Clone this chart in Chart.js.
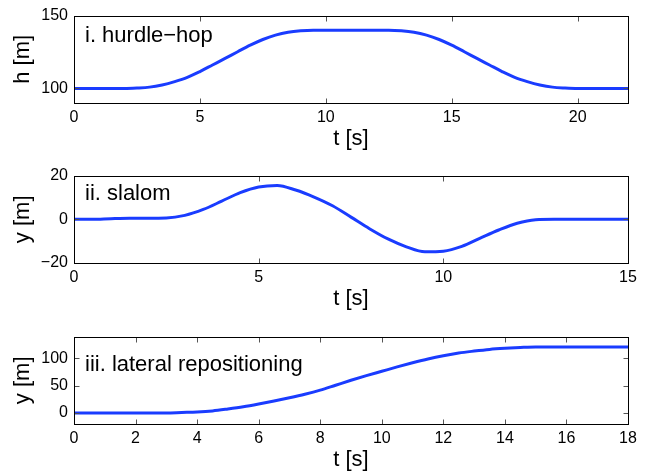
<!DOCTYPE html>
<html>
<head>
<meta charset="utf-8">
<script src="https://cdn.jsdelivr.net/npm/chart.js@4.4.1/dist/chart.umd.min.js"></script>
<style>
  html, body { margin: 0; padding: 0; background: #fff; overflow: hidden; }
  #wrap { position: relative; width: 650px; height: 474px; }
  .panel { position: absolute; left: 0; width: 650px; height: 160px; }
</style>
</head>
<body>
<div id="wrap">
  <div class="panel" style="top:0px"><canvas id="c1"></canvas></div>
  <div class="panel" style="top:160px"><canvas id="c2"></canvas></div>
  <div class="panel" style="top:321px"><canvas id="c3"></canvas></div>
</div>
<script>
// i. hurdle-hop: altitude over time
const tHurdle = [0, 0.5, 1, 1.5, 2, 2.5, 3, 3.5, 4, 4.5, 5, 5.5, 6, 6.5, 7, 7.5, 8, 8.5, 9, 9.5, 10,
  10.5, 11, 11.5, 12, 12.5, 13, 13.5, 14, 14.5, 15, 15.5, 16, 16.5, 17, 17.5, 18, 18.5, 19, 19.5, 20,
  20.5, 21, 21.5, 22];
const hHurdle = [100, 100, 100, 100, 100, 100.3, 100.9, 102.4, 104.7, 107.6, 111.6, 116.1, 120.6, 125.2,
  129.7, 133.6, 136.6, 138.6, 139.6, 140, 140, 140, 140, 140, 140, 140, 139.6, 138.6, 136.6, 133.6,
  129.7, 125.2, 120.6, 116.1, 111.6, 107.6, 104.7, 102.4, 100.9, 100.3, 100, 100, 100, 100, 100];
const hHurdleTicks = [100, 150];
const tHurdleTicks = [0, 5, 10, 15, 20];

// ii. slalom: lateral offset over time
const tSlalom = [0, 0.5, 1, 1.5, 2, 2.5, 3, 3.5, 4, 4.5, 5, 5.5, 6, 6.5, 7, 7.5, 8, 8.5, 9, 9.5, 10,
  10.5, 11, 11.5, 12, 12.5, 13, 13.5, 14, 14.5, 15];
const ySlalom = [0, 0, 0.3, 0.5, 0.5, 0.6, 1.8, 4.5, 8.3, 12.2, 14.8, 15.5, 13.4, 10.2, 6.2, 1,
  -4.3, -9, -12.6, -14.9, -14.6, -12.4, -8.6, -4.9, -1.8, -0.2, 0, 0, 0, 0, 0];
const ySlalomTicks = [-20, 0, 20];
const tSlalomTicks = [0, 5, 10, 15];

// iii. lateral repositioning
const tLateral = [0, 0.5, 1, 1.5, 2, 2.5, 3, 3.5, 4, 4.5, 5, 5.5, 6, 6.5, 7, 7.5, 8, 8.5, 9, 9.5, 10,
  10.5, 11, 11.5, 12, 12.5, 13, 13.5, 14, 14.5, 15, 15.5, 16, 16.5, 17, 17.5, 18];
const yLateral = [0, 0, 0, 0, 0, 0, 0, 1, 2, 4, 7.5, 11.5, 16.5, 22, 28, 34.5, 42, 51, 60, 68.5, 76.5,
  84.5, 92, 99, 105, 110, 113.5, 116.5, 118.5, 120, 121, 121, 121, 121, 121, 121, 121];
const yLateralTicks = [0, 50, 100];
const tLateralTicks = [0, 2, 4, 6, 8, 10, 12, 14, 16, 18];

const FONT = "'Liberation Sans', Arial, Helvetica, sans-serif";
const LINE = '#1a3cff';

// box around the plot area with inward tick marks on all four sides
const boxPlugin = {
  id: 'box',
  afterDraw(chart) {
    const ctx = chart.ctx;
    const a = chart.chartArea;
    const xs = chart.scales.x, ys = chart.scales.y;
    const L = Math.round(a.left) + 0.5, R = Math.round(a.right) + 0.5;
    const T = Math.round(a.top) + 0.5, B = Math.round(a.bottom) + 0.5;
    ctx.save();
    ctx.strokeStyle = '#555';
    ctx.lineWidth = 1;
    ctx.beginPath();
    xs.ticks.forEach(t => {
      const px = Math.round(xs.getPixelForValue(t.value)) + 0.5;
      ctx.moveTo(px, B); ctx.lineTo(px, B - 5);
      ctx.moveTo(px, T); ctx.lineTo(px, T + 5);
    });
    ys.ticks.forEach(t => {
      const py = Math.round(ys.getPixelForValue(t.value)) + 0.5;
      ctx.moveTo(L, py); ctx.lineTo(L + 5, py);
      ctx.moveTo(R, py); ctx.lineTo(R - 5, py);
    });
    ctx.stroke();
    ctx.strokeStyle = '#000';
    ctx.strokeRect(L, T, R - L, B - T);
    const lab = chart.options.plugins.box;
    ctx.fillStyle = '#000';
    ctx.font = '22px ' + FONT;
    ctx.textBaseline = 'alphabetic';
    ctx.fillText(lab.text, a.left + 11, a.top + lab.dy);
    ctx.restore();
  }
};

function makePanel(id, tVals, yVals, xMax, yMin, yMax, xTicks, yTicks, yTitle, label, dy) {
  new Chart(document.getElementById(id), {
    type: 'line',
    data: {
      datasets: [{
        data: tVals.map((t, i) => ({ x: t, y: yVals[i] })),
        borderColor: LINE,
        borderWidth: 3,
        pointRadius: 0,
        cubicInterpolationMode: 'monotone',
        fill: false
      }]
    },
    options: {
      responsive: true,
      maintainAspectRatio: false,
      animation: false,
      layout: { padding: { top: 15, right: 22, left: 0, bottom: 0 } },
      plugins: {
        legend: { display: false },
        tooltip: { enabled: false },
        box: { text: label, dy: dy }
      },
      scales: {
        x: {
          type: 'linear',
          min: 0,
          max: xMax,
          afterBuildTicks: s => { s.ticks = xTicks.map(v => ({ value: v })); },
          afterFit: s => { s.height = 57; },
          grid: { display: false, drawTicks: false },
          border: { display: false },
          ticks: { color: '#000', font: { family: FONT, size: 16 }, padding: 5, maxRotation: 0 },
          title: { display: true, text: 't [s]', color: '#000',
                   font: { family: FONT, size: 22, lineHeight: 1 }, padding: { top: 0, bottom: 10 } }
        },
        y: {
          min: yMin,
          max: yMax,
          afterBuildTicks: s => { s.ticks = yTicks.map(v => ({ value: v })); },
          afterFit: s => { s.width = 74; },
          grid: { display: false, drawTicks: false },
          border: { display: false },
          ticks: { color: '#000', font: { family: FONT, size: 16 }, padding: 6,
                   callback: v => String(v).replace('-', '\u2212') },
          title: { display: true, text: yTitle, color: '#000',
                   font: { family: FONT, size: 22, lineHeight: 1 }, padding: { top: 12, bottom: 0 } }
        }
      }
    },
    plugins: [boxPlugin]
  });
}

makePanel('c1', tHurdle, hHurdle, 22, 90, 150, tHurdleTicks, hHurdleTicks, 'h [m]', 'i. hurdle\u2212hop', 26);
makePanel('c2', tSlalom, ySlalom, 15, -20, 20, tSlalomTicks, ySlalomTicks, 'y [m]', 'ii. slalom', 24);
makePanel('c3', tLateral, yLateral, 18, -20, 140, tLateralTicks, yLateralTicks, 'y [m]', 'iii. lateral repositioning', 34);
</script>
</body>
</html>
